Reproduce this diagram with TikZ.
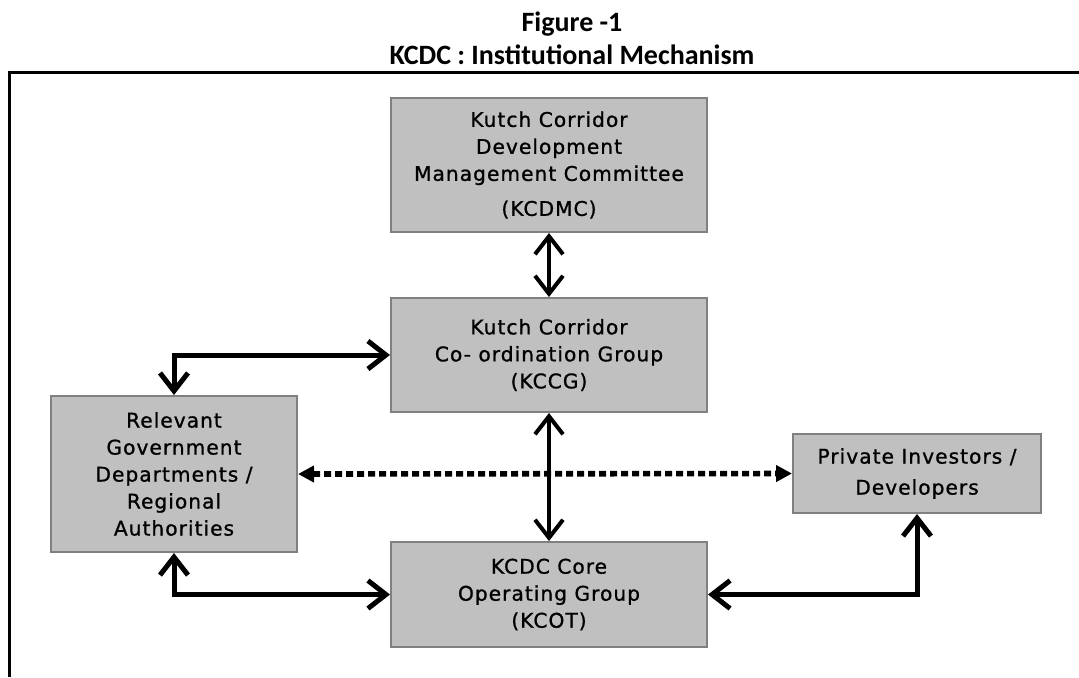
\documentclass[tikz,border=0pt]{standalone}
\usepackage{fontspec}
\usetikzlibrary{arrows.meta}
\newfontfamily\titlefont{Carlito}
\newfontfamily\boxfont[LetterSpace=5,FakeBold=1]{DejaVu Sans}
\definecolor{boxgray}{RGB}{192,192,192}
\definecolor{edgegray}{RGB}{128,128,128}
\begin{document}
\begin{tikzpicture}[x=0.5pt,y=-0.5pt,
  unit/.style={draw=edgegray,line width=1pt,fill=boxgray,inner sep=0pt,align=center,
    font=\boxfont\fontsize{10.1pt}{13.5pt}\selectfont},
  link/.style={line width=2.5pt,{Straight Barb[length=9pt,width=14pt]}-{Straight Barb[length=9pt,width=14pt]}},
  uplink/.style={link,line width=2pt},
  dotlink/.style={line width=2.8pt,dash pattern=on 3.5pt off 2pt,{Triangle[length=8pt,width=8pt]}-{Triangle[length=8pt,width=8pt]}}]
\useasboundingbox (0,0) rectangle (1079,677);
\node[font=\titlefont\bfseries\fontsize{14pt}{16.5pt}\selectfont,align=center] (title) at (572,38) {Figure -1\\KCDC : Institutional Mechanism};
\draw [line width=1.5pt] (9,677) -- (9,72) -- (1079,72);

\node[unit,minimum width=158pt,minimum height=67pt] (kcdmc) at (549,165) {Kutch Corridor\\Development\\Management Committee\\[4pt](KCDMC)};
\node[unit,minimum width=158pt,minimum height=57pt] (kccg) at (549,355) {Kutch Corridor\\Co- ordination Group\\(KCCG)};
\node[unit,minimum width=158pt,minimum height=52.5pt] (kcot) at (549,594.5) {KCDC Core\\Operating Group\\(KCOT)};
\node[unit,minimum width=123pt,minimum height=78pt] (gov) at (174,474) {Relevant\\Government\\Departments /\\Regional\\Authorities};
\node[unit,minimum width=124pt,minimum height=39.5pt] (inv) at (917,473.5) {Private Investors /\\[2pt]Developers};

\draw [uplink] (kcdmc) -- (kccg);
\draw [uplink] (kccg) -- (kcot);
\draw [link] (gov.north) |- (kccg.west);
\draw [link] (gov.south) |- (kcot.west);
\draw [link] (inv.south) |- (kcot.east);
\draw [dotlink] (gov.east) -- (inv.west);
\end{tikzpicture}
\end{document}
